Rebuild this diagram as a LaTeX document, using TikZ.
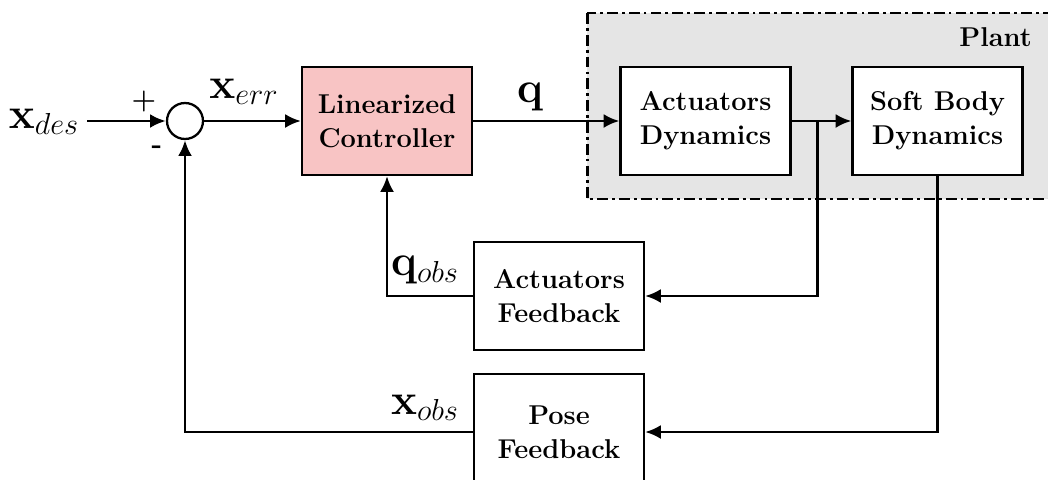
\documentclass[tikz,border=0pt]{standalone}
\usetikzlibrary{arrows.meta,calc}
\definecolor{pinkfill}{RGB}{248,196,196}
\definecolor{plantgray}{RGB}{229,229,229}
\begin{document}
\begin{tikzpicture}[x=0.02cm,y=-0.02cm,
  every node/.style={font=\fontsize{15.5}{19.5}\selectfont\bfseries},
  blockbox/.style={draw, line width=1.2pt, minimum width=3.4cm, minimum height=2.16cm, align=center, inner sep=0pt},
  conn/.style={line width=1.7pt, -{Latex[length=9pt,width=8pt]}},
  lbl/.style={font=\fontsize{23}{26}\selectfont},
  sgn/.style={font=\fontsize{16}{18}\selectfont\bfseries}]
\useasboundingbox (0,0) rectangle (1048,480);
\clip (0,0) rectangle (1048,480);
% plant region
\path[fill=plantgray, draw, line width=1.7pt, dash pattern=on 6.2pt off 2.3pt on 1.6pt off 2.3pt]
  (587,13) rectangle (1070,199);
\node[anchor=east] (plantlbl) at (1038,37) {Plant};
% blocks
\node[blockbox, fill=pinkfill] (ctrl) at (387,121) {Linearized\\Controller};
\node[blockbox, fill=white] (ad) at (705.5,121) {Actuators\\Dynamics};
\node[blockbox, fill=white] (sb) at (937.5,121) {Soft Body\\Dynamics};
\node[blockbox, fill=white] (af) at (559,296) {Actuators\\Feedback};
\node[blockbox, fill=white, minimum height=2.32cm] (pf) at (559,432) {Pose\\Feedback};
\node[draw, circle, line width=1.3pt, minimum size=0.72cm, inner sep=0pt] (sum) at (185,121) {};
% labels
\node[lbl] (xdes) at (44,122) {$\mathbf{x}_{des}$};
\node[sgn] (plus) at (144,101) {+};
\node[sgn] (minus) at (157,150) {-};
\node[lbl] (xerr) at (244,92) {$\mathbf{x}_{err}$};
\node[lbl] (qlbl) at (530,97) {$\mathbf{q}$};
\node[lbl] (qobs) at (425,270) {$\mathbf{q}_{obs}$};
\node[lbl] (xobs) at (425,408) {$\mathbf{x}_{obs}$};
% connectors
\coordinate (xin) at (87,121);
\coordinate (br) at (817,121);
\draw[conn] (xin) -- (sum.west);
\draw[conn] (sum.east) -- (ctrl.west);
\draw[conn] (ctrl.east) -- (ad.west);
\draw[conn] (ad.east) -- (sb.west);
\draw[conn] (br) |- (af.east);
\draw[conn] (af.west) -| (ctrl.south);
\draw[conn] (sb.south) |- (pf.east);
\draw[conn] (pf.west) -| (sum.south);
\end{tikzpicture}
\end{document}
